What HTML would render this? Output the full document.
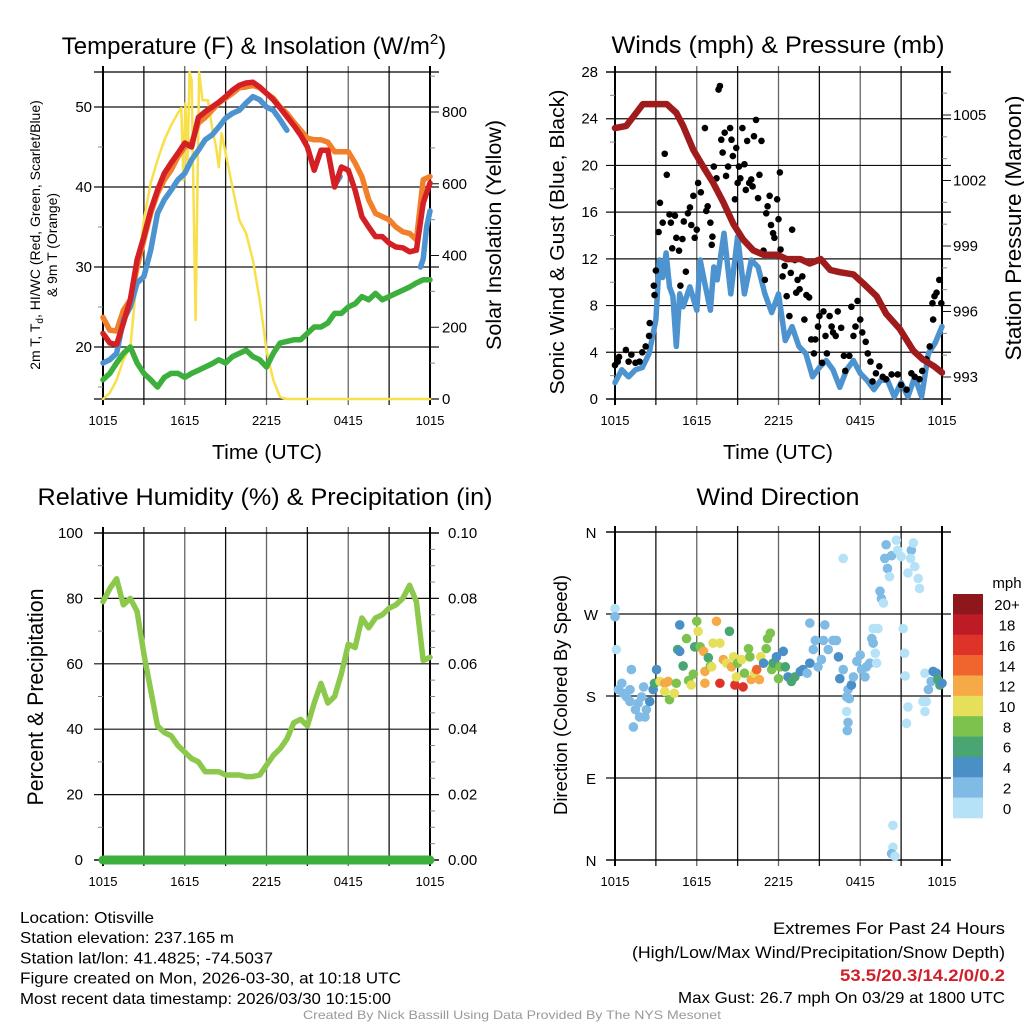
<!DOCTYPE html>
<html><head><meta charset="utf-8"><style>
html,body{margin:0;padding:0;background:#fff;}
body{width:1024px;height:1024px;overflow:hidden;font-family:"Liberation Sans",sans-serif;}
svg{display:block;}
</style></head><body>
<svg id="chart" width="1024" height="1024" viewBox="0 0 1024 1024" xmlns="http://www.w3.org/2000/svg" font-family="Liberation Sans, sans-serif"></svg>
<script>
// ---------- DATA ----------
const timeTicks = ["1015","1615","2215","0415","1015"];
// Temperature panel (hours since 1015 UTC)
const tempHours = [0,0.5,1,1.5,2,2.5,3,3.5,4,4.5,5,5.5,6,6.5,7,7.5,8,8.5,9,9.5,10,10.5,11,11.5,12,12.5,13,13.5,14,14.5,15,15.5,16,16.5,17,17.5,18,18.5,19,19.5,20,20.5,21,21.5,22,22.5,23,23.5,24];
const temp2m = [21.7,20.5,20.3,23,25.9,30.9,33.8,37.1,39.6,41.7,43,44.2,45.5,45,48.7,49.4,50,50.6,51.3,52.1,52.7,53,53.1,52.5,51.7,50.9,49.9,48.8,47.7,46.5,45,42.1,44.6,44.6,40,42.5,42.1,39.6,36.3,35,33.8,33.8,33,32.5,32.4,31.9,32.1,38,40.5];
const temp9m = [23.7,22.1,22,24.6,25.9,30,33.4,36.7,39.2,40.9,42.1,43.8,45,45.5,48,48.7,49.6,50.5,51.1,51.7,52.4,52.5,52.7,52.4,51.7,51.1,50,49.2,48.1,47.1,46.1,45.9,45.9,45.6,44.4,44.4,44.4,43,41.3,38.4,36.7,36.3,35.9,35,34.4,34.2,33.4,40.9,41.3];
const dewpoint = [15.9,16.7,18,19.2,20,18,16.7,15.9,15,16.2,16.7,16.7,16.2,16.7,17.1,17.5,17.9,18.4,18,18.8,19.2,19.6,18.8,18.4,17.5,19.2,20.5,20.7,20.9,20.9,21.7,22.5,22.5,23,24.2,24.2,25,25.4,26.3,25.9,26.7,25.9,26.3,26.7,27.1,27.5,28,28.4,28.4];
const heatIndexHours = [0,0.5,1,1.5,2,2.5,3,3.5,4,4.5,5,5.5,6,6.5,7,7.5,8,8.5,9,9.5,10,10.5,11,11.5,12,12.5,13,13.5,null,17.1,17.4,null,23.3,23.5,23.75,24];
const heatIndex = [18,18.4,19.2,23.4,25,28,28.8,32.1,36.7,38.4,39.6,40.9,41.7,43.4,44.6,45.9,46.5,47.5,48.6,49.2,49.6,50.5,51.3,50.9,50,49.6,48.4,47.1,null,40.5,41.3,null,30,31,35,37];
const solarHours = [0,0.5,1,1.5,2,2.5,3,3.5,4,4.5,5,5.5,5.75,5.9,6.05,6.2,6.35,6.5,6.8,7.05,7.3,7.7,8,8.3,8.5,8.7,9,9.5,10,10.5,11,11.5,12,12.5,13,13.5,24];
const solar = [0,17,53,109,145,340,499,602,666,721,763,797,811,610,824,646,911,889,220,911,833,833,758,702,646,741,685,591,499,462,387,276,136,53,5,0,0];
// Wind panel
const windHours = [0,0.5,1,1.5,2,2.5,3,3.25,3.5,3.75,4,4.25,4.5,4.75,5,5.5,6,6.25,6.5,7,7.25,7.5,8,8.5,9,9.5,10,10.5,11,11.5,12,12.5,13,13.5,14,14.5,15,15.5,16,16.5,17,17.5,18,18.5,19,19.5,20,20.5,21,21.5,22,22.5,23,23.5,24];
const windSpeed = [1.4,2.5,1.9,2.5,2.7,3.9,6.8,11.9,10.4,12.5,9.6,8.8,4.5,9,7.9,9.6,7.6,11.9,10.4,7.6,11.3,10.2,14.2,9,13.9,9,11.9,11.3,9,7.4,9,5,6.2,4.5,3.9,1.9,2.7,3.3,2.5,1,2.5,3.3,2.2,1.6,0.8,1.6,1.6,0.2,1.4,0.2,1.9,0.2,3.9,4.8,6.2];
const gustHours = [0,0.2,0.3,0.8,1,1.2,1.5,1.8,2,2.25,2.5,2.55,2.85,2.9,3,3.2,3.3,3.5,3.65,3.8,4,4.1,4.2,4.4,4.5,4.7,4.8,4.95,5.05,5.2,5.35,5.5,5.6,5.75,5.85,6,6.1,6.3,6.6,6.7,6.8,7,7.1,7.15,7.25,7.45,7.6,7.7,7.8,7.9,8.05,8.15,8.3,8.45,8.55,8.65,8.8,8.9,9,9.1,9.2,9.35,9.5,9.6,9.7,9.85,10,10.1,10.2,10.35,10.5,10.6,10.75,10.9,11,11.1,11.2,11.35,11.45,11.6,11.7,11.9,12,12.1,12.15,12.3,12.45,12.6,12.8,12.9,13,13.2,13.3,13.4,13.55,13.75,13.9,14.05,14.25,14.4,14.6,14.7,14.9,15,15.2,15.3,15.45,15.55,15.75,15.9,16,16.2,16.35,16.6,16.8,16.9,17.2,17.35,17.5,17.65,17.8,18,18.15,18.4,18.55,18.75,18.9,19.15,19.4,19.65,19.9,20.3,20.75,21,21.4,21.75,22,22.35,22.55,22.85,23.1,23.35,23.3,23.45,23.6,23.8,23.95];
const gusts = [2.9,3.2,3.6,4.2,3.2,3.8,3.1,3.2,4,4.5,5.4,6.5,9.7,8.9,11,14.3,16.8,15.1,21,19.2,15.8,15.1,12.9,15.7,13.8,12.7,9.7,13.7,15.2,10.9,15.9,16.4,14.9,17.4,13.8,14.5,18.5,17.7,23.2,16.1,16.5,15.1,13.2,13.9,19.9,18.9,26.5,26.8,22.2,21.1,22.8,19.1,19.9,23.2,22.2,20.8,17.1,21.5,18.5,19.9,18.9,23.2,20.1,17.9,22.1,18.5,18.8,18.2,22.5,23.9,17.2,19.2,22.1,12.7,10.2,15.9,16.5,17.4,14.9,14.2,13.8,17.1,15.4,19.4,12.8,10.5,11.4,8.8,7.1,10.8,14.5,11.9,9.1,10.2,9.4,10.5,6.8,8.9,8.7,5.1,3.9,5.1,6.2,7.1,3.1,7.5,5.4,3.9,7.1,6.2,5.7,5.4,7.5,6.1,3.7,2.4,3.7,7.9,5.4,6.2,8.4,6.8,5.7,4.9,3.9,3.2,1.5,2.2,2.8,1.9,1.7,2.1,2.1,1.2,0.8,2.2,1.9,1.7,2.4,3.4,4.5,6.8,8.2,8.8,9.1,10.2,8.2];
const pressHours = [0,0.83,1.56,2.05,2.8,3.8,4.5,5,5.75,6.5,7.2,7.95,8.7,9.4,10.15,10.9,11.9,12.6,13.6,14.3,15.1,15.8,16.5,17.5,18.2,19.2,19.9,20.9,21.9,22.6,23.4,24];
const pressure = [1004.4,1004.5,1005.1,1005.5,1005.5,1005.5,1005.1,1004.5,1003.4,1002.6,1001.9,1001,1000,999.3,998.8,998.6,998.6,998.4,998.4,998.2,998.4,997.9,997.8,997.7,997.3,996.7,995.9,995.2,994.2,993.8,993.5,993.2];
// Humidity panel
const rhHours = [0,0.5,1,1.5,2,2.5,3,3.5,4,4.5,5,5.5,6,6.5,7,7.5,8,8.5,9,9.5,10,10.5,11,11.5,12,12.5,13,13.5,14,14.5,15,15.5,16,16.5,17,17.5,18,18.5,19,19.5,20,20.5,21,21.5,22,22.5,23,23.5,24];
const rh = [79,83,86,78,80,76,63,52,41,39,38,35,33,31,30,27,27,27,26,26,26,25.5,25.5,26,29,32,34,37,42,43,41,48,54,48,50,57,66,65,74,71,74,75,77,78,80,84,79,61,62];
const precipHours = [0,24];
const precip = [0,0];
// Wind direction panel
const dirHours = [0,0,0.1,0.5,0.25,0.6,0.85,1.1,1.2,1.1,1.5,1.35,1.7,1.8,1.95,2.1,2.3,2.2,2.55,2.8,2.9,3.05,3.3,3.65,3.9,3.65,4,4.35,4.5,4.6,4.75,4.75,5,5.25,5.4,5.6,5.75,5.85,6,6.1,6.25,6.5,6.6,6.6,6.85,7,7.1,7.2,7.45,7.7,7.7,7.95,8.2,8.4,8.55,8.7,8.8,8.9,9,9.3,9.4,9.5,9.8,9.9,10,10.25,10.4,10.6,10.7,10.9,11.1,11.2,11.4,11.5,11.6,11.85,12,12.1,12.35,12.5,12.7,12.95,13.2,13.6,13.8,14.1,14.3,14.3,14.55,14.7,14.9,15.15,15.3,15.4,15.65,16,16.25,16.4,16.5,16.75,16.75,17,17.1,17.35,17.2,17.5,17.75,18,18.1,18.35,18.45,18.7,18.85,18.95,19.1,19.2,19.3,18.95,17,17.1,17.05,19.45,19.55,19.7,19.8,19.9,20,20.15,20.3,20.65,20.75,21,21.15,21.25,21.3,21.5,21.4,21.5,21.75,21.9,21.7,22,22.25,22.35,20.4,20.4,20.3,20.55,22.6,22.75,22.85,22.75,23,23.2,23.35,23.6,23.7,23.85,24];
const dirDegrees = [276,267,231,194,187,183,179,187,209,174,165,146,172,157,179,190,165,157,174,187,194,209,196,194,196,185,176,183,194,231,258,229,213,243,197,192,204,234,262,251,234,229,194,207,222,213,212,238,262,238,194,220,216,251,212,223,192,201,216,220,190,205,232,223,198,205,209,198,223,216,232,243,249,209,216,223,199,212,229,212,201,196,201,207,209,205,216,260,231,241,212,220,241,258,231,241,241,223,199,209,331,179,187,192,177,201,218,225,209,201,212,216,243,254,227,216,254,238,163,151,142,295,287,282,331,346,320,311,334,351,340,333,254,227,202,168,150,315,340,348,331,322,309,298,38,14,7,4,174,163,174,205,187,196,207,205,198,192,194];
const dirSpeed = [1,2,1,2,2,2,2,2,2,2,2,2,2,2,2,2,2,2,4,4,6,4,10,12,12,10,8,10,8,6,4,4,6,8,8,10,8,6,8,10,8,12,12,12,6,8,10,10,12,10,16,12,10,6,12,10,16,10,8,10,16,8,8,8,12,10,14,12,10,4,8,8,8,8,6,4,8,8,4,6,4,6,6,4,4,2,4,2,2,2,2,2,2,2,2,2,2,4,4,2,0,2,2,4,2,2,2,2,2,2,2,2,2,0,0,0,0,2,0,2,2,2,2,0,2,2,2,0,2,0,0,0,0,0,0,0,0,0,2,0,0,0,0,0,0,0,2,0,0,0,0,0,2,2,4,4,6,6,4];
const speedBins = ["0","2","4","6","8","10","12","14","16","18","20+"];
const speedColors = ["#b5e2f7","#7fbbe4","#4a8fc6","#49a571","#7dc24d","#e6df5a","#f6a947","#f0652e","#dd3329","#bd1c26","#8e171b"];
const tempTicks = [20,30,40,50];
const solarTicks = [0,200,400,600,800];
const windTicks = [0,4,8,12,16,20,24,28];
const pressTicks = [993,996,999,1002,1005];
const rhTicks = [0,20,40,60,80,100];
const precipTicks = ["0.00","0.02","0.04","0.06","0.08","0.10"];
const dirLabels = ["N","E","S","W","N"];

// ---------- RENDER ----------
const NS="http://www.w3.org/2000/svg";
const svg=document.getElementById('chart');
function mk(tag,attrs,parent){const e=document.createElementNS(NS,tag);for(const k in attrs)e.setAttribute(k,attrs[k]);(parent||svg).appendChild(e);return e;}
function txt(s,x,y,size,anchor,parent,extra){const t=mk('text',Object.assign({x:x,y:y,'font-size':size,'text-anchor':anchor||'middle',fill:'#000'},extra||{}),parent);t.textContent=s;return t;}
function panel(name,L,R,T,B){const g=mk('g',{});return {g,L,R,T,B,x:h=>L+h*(R-L)/24};}
function linScale(v0,v1,p0,p1){return v=>p0+(v-v0)*(p1-p0)/(v1-v0);}
function frame(P,hLines){
  const g=mk('g',{},P.g);
  for(let i=1;i<8;i++){const x=P.x(i*3);mk('line',{x1:x,x2:x,y1:P.T-6,y2:P.B+6,stroke:i%2?'#111':'#666','stroke-width':1.3},g);}
  hLines.forEach(y=>mk('line',{x1:P.L-9,x2:P.R+9,y1:y,y2:y,stroke:'#111','stroke-width':1.2},g));
  mk('line',{x1:P.L,x2:P.L,y1:P.T-6,y2:P.B+6,stroke:'#000','stroke-width':2},g);
  mk('line',{x1:P.R,x2:P.R,y1:P.T-6,y2:P.B+6,stroke:'#000','stroke-width':2},g);
  mk('line',{x1:P.L-9,x2:P.R+9,y1:P.T,y2:P.T,stroke:'#000','stroke-width':1.2},g);
  mk('line',{x1:P.L-9,x2:P.R+9,y1:P.B,y2:P.B,stroke:'#000','stroke-width':1.2},g);
}
function xLabels(P,y){const g=mk('g',{},P.g);timeTicks.forEach((s,i)=>txt(s,P.x(i*6),y,13,'middle',g));}
function path(P,hs,vs,xs,ys,color,w,name){
  let d='',pen=false;for(let i=0;i<hs.length;i++){if(hs[i]===null||vs[i]===null){pen=false;continue;}d+=(pen?'L':'M')+xs(hs[i]).toFixed(1)+','+ys(vs[i]).toFixed(1);pen=true;}
  const p=mk('path',{d:d,fill:'none',stroke:color,'stroke-width':w,'stroke-linejoin':'round','stroke-linecap':'round'},P.g);
  
  
  return p;
}
function fit(t,len){t.setAttribute('textLength',len);t.setAttribute('lengthAdjust','spacingAndGlyphs');return t;}
function rotText(s,x,y,size,parent,name,len){const t=txt(s,x,y,size,'middle',parent,{transform:`rotate(-90 ${x} ${y})`});if(len)fit(t,len);return t;}

// Panel 1: temperature
{
const P=panel('temperature-panel',103,430,72,399);
const yT=linScale(20,50,347,107), yS=linScale(0,800,399,112);
frame(P,tempTicks.map(yT));
[15,25,35,45].forEach(v=>mk('line',{x1:P.L,x2:P.L-5,y1:yT(v),y2:yT(v),stroke:'#888'},P.g));
[100,300,500,700,900].forEach(v=>mk('line',{x1:P.R,x2:P.R+5,y1:yS(v),y2:yS(v),stroke:'#888'},P.g));
solarTicks.forEach(v=>mk('line',{x1:P.R,x2:P.R+9,y1:yS(v),y2:yS(v),stroke:'#111'},P.g));
tempTicks.forEach(v=>txt(v,92,yT(v)+5,15,'end',P.g));
solarTicks.forEach(v=>txt(v,442,yS(v)+5,15,'start',P.g));
path(P,solarHours,solar,P.x,yS,'#f7e04a',2.5,'solar-insolation-line');
path(P,tempHours,dewpoint,P.x,yT,'#3daf3d',5.5,'dewpoint-line');
path(P,tempHours,temp9m,P.x,yT,'#f27f2b',5.5,'temp-9m-line');
path(P,heatIndexHours,heatIndex,P.x,yT,'#4d93cf',5.5,'heat-index-windchill-line');
path(P,tempHours,temp2m,P.x,yT,'#d42025',5.5,'temp-2m-line');
xLabels(P,425);
const t=txt('Temperature (F) & Insolation (W/m',254,54,24,'middle',P.g);
const ts=mk('tspan',{'font-size':15,dy:-10},t);ts.textContent='2';const te=mk('tspan',{dy:10},t);te.textContent=')';
const x1=fit(txt('Time (UTC)',267,459,20,'middle',P.g),110);
const yl=txt('',40,235,14,'middle',P.g,{transform:'rotate(-90 40 235)'});
yl.innerHTML='2m T, T<tspan font-size="10" dy="3">d</tspan><tspan dy="-3">, HI/WC (Red, Green, Scarlet/Blue)</tspan>';
rotText('& 9m T (Orange)',57,245,14,P.g,'temperature-y-axis-title-line2',104);
rotText('Solar Insolation (Yellow)',501,235,21,P.g,'solar-y-axis-title',230);
}
// Panel 2: winds
{
const P=panel('winds-panel',615,942,72,399);
const yW=linScale(0,28,399,72), yP=linScale(993,1005,377,115);
frame(P,windTicks.map(yW));
[2,6,10,14,18,22,26].forEach(v=>mk('line',{x1:P.L,x2:P.L-5,y1:yW(v),y2:yW(v),stroke:'#888'},P.g));
[994,995,997,998,1000,1001,1003,1004,1006].forEach(v=>mk('line',{x1:P.R,x2:P.R+5,y1:yP(v),y2:yP(v),stroke:'#888'},P.g));
pressTicks.forEach(v=>mk('line',{x1:P.R,x2:P.R+9,y1:yP(v),y2:yP(v),stroke:'#111'},P.g));
windTicks.forEach(v=>txt(v,598,yW(v)+5,15,'end',P.g));
pressTicks.forEach(v=>txt(v,953,yP(v)+5,15,'start',P.g));
path(P,windHours,windSpeed,P.x,yW,'#4d93cf',5.5,'sonic-wind-line');
const gg=mk('g',{},P.g);
gustHours.forEach((h,i)=>{const c=mk('circle',{cx:P.x(h),cy:yW(gusts[i]),r:3.3,fill:'#000'},gg);

});
path(P,pressHours,pressure,P.x,yP,'#a01b1b',6.5,'station-pressure-line');
xLabels(P,425);
const t=fit(txt('Winds (mph) & Pressure (mb)',778,53,24,'middle',P.g),333);
const x1=fit(txt('Time (UTC)',778,459,20,'middle',P.g),110);
rotText('Sonic Wind & Gust (Blue, Black)',564,242,20,P.g,'wind-y-axis-title',305);
rotText('Station Pressure (Maroon)',1021,228,22,P.g,'pressure-y-axis-title',265);
}
// Panel 3: RH
{
const P=panel('humidity-panel',103,430,533,860);
const yR=linScale(0,100,860,533);
frame(P,rhTicks.map(yR));
for(let v=10;v<100;v+=10) if(v%20) mk('line',{x1:P.L,x2:P.L-5,y1:yR(v),y2:yR(v),stroke:'#888'},P.g);
for(let v=5;v<100;v+=5) if(v%20) mk('line',{x1:P.R,x2:P.R+5,y1:yR(v),y2:yR(v),stroke:'#888'},P.g);
rhTicks.forEach(v=>txt(v,83,yR(v)+5,15,'end',P.g));
precipTicks.forEach((s,i)=>txt(s,448,yR(i*20)+5,15,'start',P.g));
path(P,rhHours,rh,P.x,yR,'#8cc84b',5.5,'relative-humidity-line');
path(P,precipHours,precip.map(v=>v*1000),P.x,yR,'#3daf3d',9,'precipitation-line');
xLabels(P,886);
const t=fit(txt('Relative Humidity (%) & Precipitation (in)',265,505,24,'middle',P.g),455);
rotText('Percent & Precipitation',43,697,22,P.g,'humidity-y-axis-title',217);
}
// Panel 4: wind direction
{
const P=panel('wind-direction-panel',615,942,532,860);
const yD=linScale(0,360,860,532);
frame(P,[0,90,180,270,360].map(yD));
dirLabels.forEach((s,i)=>txt(s,591,yD(i*90)+6,15,'middle',P.g));
const gg=mk('g',{},P.g);
dirHours.forEach((h,i)=>{const bin=Math.min(10,Math.floor(dirSpeed[i]/2));
const c=mk('circle',{cx:P.x(h),cy:yD(dirDegrees[i]),r:4.8,fill:speedColors[bin]},gg);

});
xLabels(P,886);
const t=fit(txt('Wind Direction',778,505,24,'middle',P.g),163);
rotText('Direction (Colored By Speed)',567,695,18,P.g,'wind-direction-y-axis-title',240);
const lg=mk('g',{},P.g);
const bh=(818-594)/11;
speedBins.forEach((s,i)=>{const k=10-i;mk('rect',{x:953,y:594+i*bh,width:30,height:bh+0.3,fill:speedColors[k]},lg);
txt(speedBins[k],1007,594+i*bh+bh/2+6,15,'middle',lg);});
txt('mph',1007,588,15,'middle',lg);
}
// Footer text
{
const g=mk('g',{});
const infoLines=["Location: Otisville","Station elevation: 237.165 m","Station lat/lon: 41.4825; -74.5037","Figure created on Mon, 2026-03-30, at 10:18 UTC","Most recent data timestamp: 2026/03/30 10:15:00"];
const infoLens=[134,214,253,381,371];
infoLines.forEach((s,i)=>fit(txt(s,20,923+i*20.2,16,'start',g),infoLens[i]));
const r=mk('g',{});
fit(txt('Extremes For Past 24 Hours',1005,934,16.5,'end',r),232);
fit(txt('(High/Low/Max Wind/Precipitation/Snow Depth)',1005,958,16.5,'end',r),373);
fit(txt('53.5/20.3/14.2/0/0.2',1005,981,16.5,'end',r,{fill:'#d0202a','font-weight':'bold'}),165);
fit(txt('Max Gust: 26.7 mph On 03/29 at 1800 UTC',1005,1003,16,'end',r),327);
const c=fit(txt('Created By Nick Bassill Using Data Provided By The NYS Mesonet',512,1019,12,'middle',svg,{fill:'#999'}),418);

}
</script>
</body></html>
